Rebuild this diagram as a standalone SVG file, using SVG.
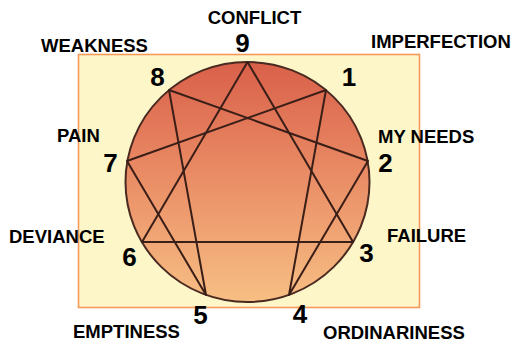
<svg xmlns="http://www.w3.org/2000/svg" width="514" height="344" viewBox="0 0 514 344">
<defs>
<linearGradient id="g" x1="0" y1="0" x2="0" y2="1">
<stop offset="0" stop-color="#d9604a"/>
<stop offset="0.45" stop-color="#e98a64"/>
<stop offset="1" stop-color="#f7bf84"/>
</linearGradient>
</defs>
<style>
text{font-family:"Liberation Sans",Arial,sans-serif;font-weight:bold;fill:#000}
.lb{font-size:18.5px}
.n{font-size:26px;text-anchor:middle}
.ln{stroke:#3a1e18;stroke-width:2;fill:none;stroke-linejoin:round}
</style>
<rect x="78.5" y="54.5" width="341" height="253" fill="#fcf6c9" stroke="#f59a5a" stroke-width="1.6"/>
<ellipse id="circle" cx="247.5" cy="182" rx="122" ry="120" fill="url(#g)" stroke="#4a2a20" stroke-width="2"/>
<g id="connectors">
<polygon class="ln" points="247.5,62 353,242 142,242"/>
<polygon class="ln" points="326,90 289,295 368,161 169,90 206,295 127,161"/>
</g>
<g id="n9"><text class="n" x="242.5" y="52">9</text><text class="lb" x="254.5" y="24" text-anchor="middle">CONFLICT</text></g>
<g id="n1"><text class="n" x="349" y="86">1</text><text class="lb" x="371" y="48">IMPERFECTION</text></g>
<g id="n2"><text class="n" x="385.5" y="172">2</text><text class="lb" x="378" y="143">MY NEEDS</text></g>
<g id="n3"><text class="n" x="366.5" y="262">3</text><text class="lb" x="387" y="242">FAILURE</text></g>
<g id="n4"><text class="n" x="300" y="323">4</text><text class="lb" x="323" y="339">ORDINARINESS</text></g>
<g id="n5"><text class="n" x="200.5" y="324">5</text><text class="lb" x="73" y="338">EMPTINESS</text></g>
<g id="n6"><text class="n" x="129.5" y="266">6</text><text class="lb" x="9" y="243">DEVIANCE</text></g>
<g id="n7"><text class="n" x="110.5" y="172">7</text><text class="lb" x="57" y="142">PAIN</text></g>
<g id="n8"><text class="n" x="157.5" y="86">8</text><text class="lb" x="41" y="52">WEAKNESS</text></g>
</svg>
